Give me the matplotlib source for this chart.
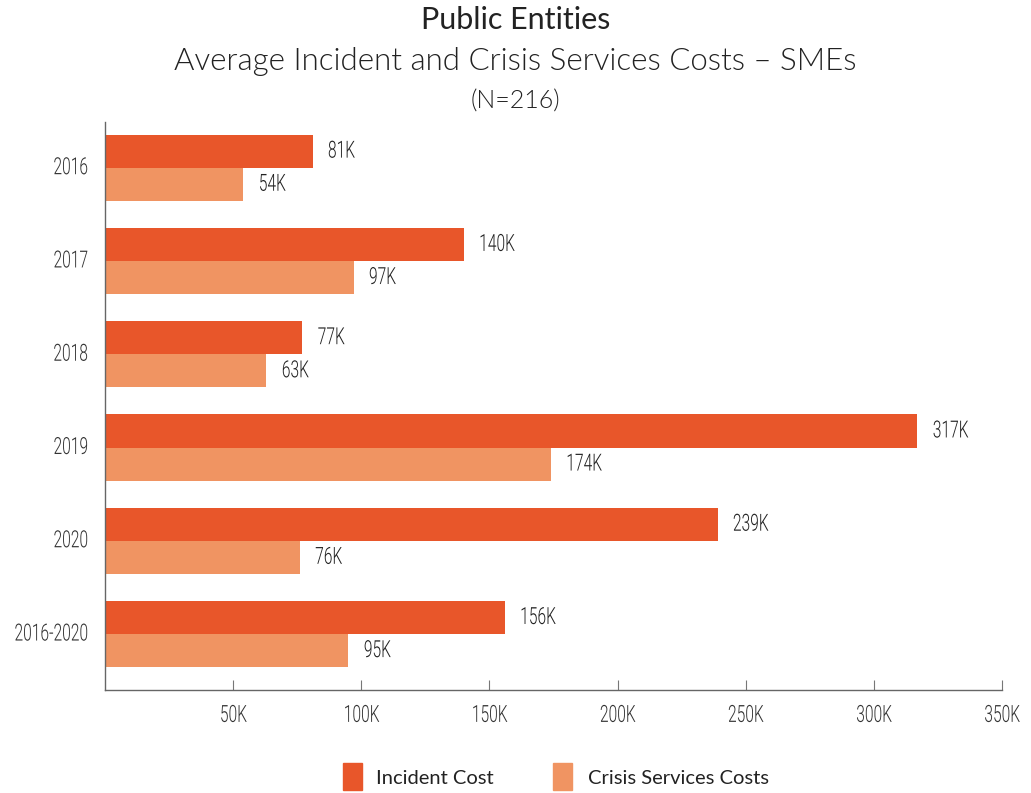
import matplotlib
matplotlib.use("Agg")
import matplotlib.pyplot as plt
import numpy as np
from matplotlib import font_manager
from matplotlib.patheffects import AbstractPathEffect
from matplotlib.transforms import Affine2D
from matplotlib.patches import Rectangle

categories = ["2016", "2017", "2018", "2019", "2020", "2016-2020"]
incident_cost = [81, 140, 77, 317, 239, 156]
crisis_costs = [54, 97, 63, 174, 76, 95]
xticks = [50, 100, 150, 200, 250, 300, 350]
xtick_labels = ["50K", "100K", "150K", "200K", "250K", "300K", "350K"]
legend_labels = ["Incident Cost", "Crisis Services Costs"]

names = {f.name for f in font_manager.fontManager.ttflist}
cond_font = "Roboto" if "Roboto" in names else "DejaVu Sans"
title_font = "Lato" if "Lato" in names else "DejaVu Sans"


class Squeeze(AbstractPathEffect):
    """Horizontally condense text glyphs about a pivot (left/center/right)."""
    def __init__(self, sx=0.66, align="left"):
        super().__init__()
        self.sx = sx
        self.align = align

    def draw_path(self, renderer, gc, tpath, affine, rgbFace=None):
        ext = tpath.get_extents()
        if self.align == "right":
            px = ext.x1
        elif self.align == "center":
            px = (ext.x0 + ext.x1) / 2
        else:
            px = 0.0
        t = Affine2D().translate(-px, 0).scale(self.sx, 1).translate(px, 0) + affine
        renderer.draw_path(gc, tpath, t, rgbFace)


SX = 0.66
FS = 17

c_inc = "#E8562A"
c_cri = "#F09462"

fig = plt.figure(figsize=(10.31, 7.93), dpi=100)
ax_left, ax_right, ax_top, ax_bot = 105, 1002, 122, 690
ax = fig.add_axes([ax_left/1031, 1-ax_bot/793, (ax_right-ax_left)/1031,
                   (ax_bot-ax_top)/793])

y = np.arange(len(categories))
h = 0.355
ax.barh(y - h/2, incident_cost, height=h, color=c_inc)
ax.barh(y + h/2, crisis_costs, height=h, color=c_cri)

for yi, v in zip(y, incident_cost):
    ax.text(v + 6, yi - h/2, f"{v}K", va="center", ha="left", fontsize=FS,
            family=cond_font, fontweight=300, color="#222222",
            path_effects=[Squeeze(SX, "left")])
for yi, v in zip(y, crisis_costs):
    ax.text(v + 6, yi + h/2, f"{v}K", va="center", ha="left", fontsize=FS,
            family=cond_font, fontweight=300, color="#222222",
            path_effects=[Squeeze(SX, "left")])

ax.set_xlim(0, 350)
ax.set_ylim(len(categories) - 1 + 0.6, -0.49)
ax.set_yticks(y)
ax.set_yticklabels([])
ax.set_xticks(xticks)
ax.set_xticklabels(xtick_labels, family=cond_font, fontsize=FS, fontweight=300,
                   color="#333333")
for t in ax.get_xticklabels():
    t.set_path_effects([Squeeze(SX, "center")])
ax.tick_params(axis="y", length=0)
ax.tick_params(axis="x", direction="in", length=7, width=0.8, color="#777777", pad=10)
for s in ["top", "right"]:
    ax.spines[s].set_visible(False)
for s in ["left", "bottom"]:
    ax.spines[s].set_color("#666666")
    ax.spines[s].set_linewidth(1.0)

# category labels (condensed, right-aligned to x=88 px)
renderer = fig.canvas.get_renderer()
ax_w_px = ax_right - ax_left
for yi, lab in zip(y, categories):
    t = ax.text(0, yi, lab, transform=ax.get_yaxis_transform(), va="center",
                ha="left", fontsize=FS, family=cond_font, fontweight=300,
                color="#333333", path_effects=[Squeeze(SX, "left")])
    w = t.get_window_extent(renderer).width * SX
    t.set_x(-(17 + w) / ax_w_px)

fig.text(0.5, 1-20/793, "Public Entities", ha="center", va="center",
         fontsize=22, family=title_font, color="#222222")
fig.text(0.5, 1-62/793, "Average Incident and Crisis Services Costs \u2013 SMEs",
         ha="center", va="center", fontsize=22.5, family=title_font,
         fontweight=300, color="#222222")
fig.text(0.5, 1-102/793, "(N=216)", ha="center", va="center",
         fontsize=18, family=title_font, fontweight=300, color="#222222")

# legend
fig.patches.append(Rectangle((343/1031, 1-790/793), 19/1031, 27/793,
                             transform=fig.transFigure, color=c_inc))
fig.patches.append(Rectangle((553/1031, 1-790/793), 19/1031, 27/793,
                             transform=fig.transFigure, color=c_cri))
fig.text(376/1031, 1-779/793, legend_labels[0], ha="left", va="center",
         fontsize=14.5, family=title_font, color="#222222")
fig.text(588/1031, 1-779/793, legend_labels[1], ha="left", va="center",
         fontsize=14.5, family=title_font, color="#222222")

fig.savefig("out.png", dpi=100)
